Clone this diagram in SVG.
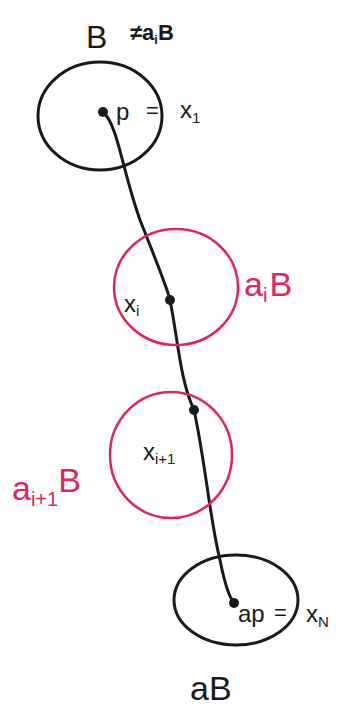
<svg xmlns="http://www.w3.org/2000/svg" width="351" height="709" viewBox="0 0 351 709">
<style>
.blk{fill:none;stroke:#1a1a1a;stroke-width:3}
.pnk{fill:none;stroke:#e0245e;stroke-width:2.5}
.t{font-family:"Liberation Sans",Arial,sans-serif;fill:#1a1a1a}
.tp{font-family:"Liberation Sans",Arial,sans-serif;fill:#e0245e}
.dot{fill:#1a1a1a}
</style>
<rect width="351" height="709" fill="#fff"/>
<g id="connectors">
<path class="blk" stroke-width="2.5" d="M103,112 C118,125 122,170 140,220 C158,265 168,290 170,300 C178,340 180,380 194,410 C205,460 210,520 220,560 C224,580 228,596 234,603"/>
</g>
<g id="ball-B">
<ellipse class="blk" cx="100" cy="116" rx="62" ry="54"/>
<text class="t" x="86" y="48" font-size="32">B</text>
<text class="t" x="130" y="40" font-size="22" font-weight="bold">≠a<tspan font-size="13" dy="4">i</tspan><tspan dy="-4">B</tspan></text>
</g>
<g id="point-p">
<circle class="dot" cx="103" cy="112" r="5"/>
<text class="t" x="116" y="120" font-size="24">p</text>
<text class="t" x="146" y="118" font-size="22">=</text>
<text class="t" x="180" y="118" font-size="24">x<tspan font-size="15" dy="5">1</tspan></text>
</g>
<g id="ball-aiB">
<ellipse class="pnk" cx="176" cy="287" rx="62" ry="58"/>
<text class="tp" x="244" y="296" font-size="34">a<tspan font-size="20" dy="6">i</tspan><tspan dx="2" dy="-6">B</tspan></text>
</g>
<g id="point-xi">
<circle class="dot" cx="170" cy="300" r="5"/>
<text class="t" x="124" y="312" font-size="24">x<tspan font-size="15" dy="4">i</tspan></text>
</g>
<g id="ball-ai1B">
<ellipse class="pnk" cx="171" cy="455" rx="61" ry="63"/>
<text class="tp" x="12" y="500" font-size="34">a<tspan font-size="20" dy="6">i+1</tspan><tspan dy="-14">B</tspan></text>
</g>
<g id="point-xi1">
<circle class="dot" cx="194" cy="410" r="5"/>
<text class="t" x="143" y="460" font-size="24">x<tspan font-size="15" dy="4">i+1</tspan></text>
</g>
<g id="ball-aB">
<ellipse class="blk" cx="236" cy="600" rx="62" ry="45"/>
<text class="t" x="190" y="700" font-size="34">aB</text>
</g>
<g id="point-ap">
<circle class="dot" cx="234" cy="603" r="5"/>
<text class="t" x="238" y="622" font-size="24">ap</text>
<text class="t" x="274" y="620" font-size="22">=</text>
<text class="t" x="306" y="622" font-size="24">x<tspan font-size="15" dy="5">N</tspan></text>
</g>
</svg>
